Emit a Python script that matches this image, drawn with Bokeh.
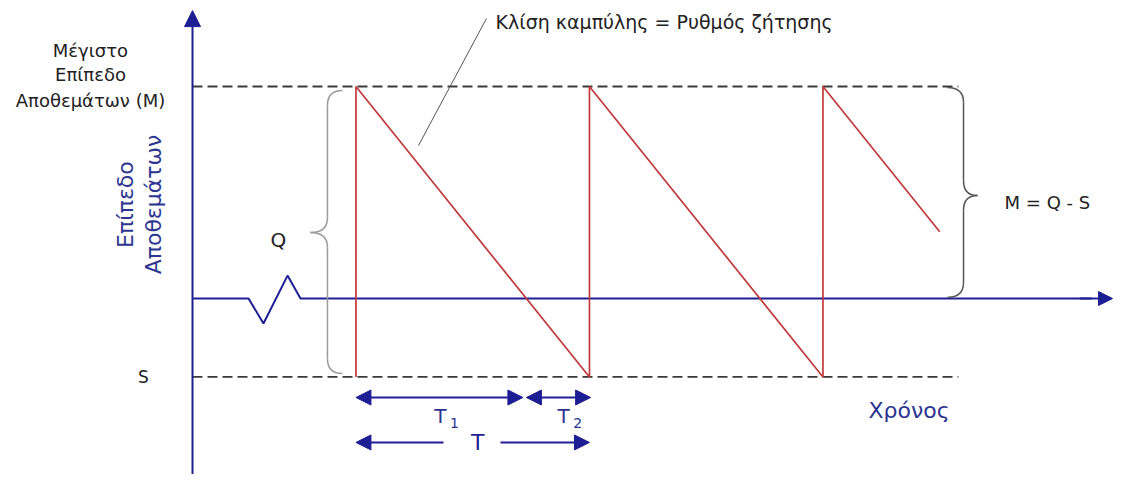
from bokeh.plotting import figure
from bokeh.models import Arrow, NormalHead, Range1d
from bokeh.core.properties import value
from bokeh.embed import file_html
from bokeh.resources import INLINE

# ---- data (time in cycle units, inventory level with M = 1) ----
M_LEVEL = 1.0
S_LEVEL = -0.37
saw_t = [0.70, 0.70, 1.70, 1.70, 2.70, 2.70, 3.20]
saw_level = [-0.37, 1.0, -0.37, 1.0, -0.37, 1.0, 0.315]
guide_end = 3.28
axis_t = [0.0, 0.163, 0.240, 0.304, 0.407, 0.4625, 3.85]
axis_level = [0.0, 0.0, 0.0, -0.118, 0.108, 0.0, 0.0]
t1_start, t1_end = 0.70, 1.415
t2_start, t2_end = 1.43, 1.705
T_gap_left, T_gap_right = 1.075, 1.319

NAVY = "#1e1e94"
BLUE_TXT = "#2b3590"
RED = "#c0393b"
FONT = value("DejaVu Sans")

p = figure(width=1114, height=474, x_range=Range1d(-0.8223, 3.9486), y_range=Range1d(-0.8302, 1.4057),
           output_backend="svg", toolbar_location=None, min_border=0,
           x_axis_location=None, y_axis_location=None)
p.xgrid.visible = False
p.ygrid.visible = False
p.outline_line_color = None

# guide dashed lines
p.line([0, guide_end], [M_LEVEL, M_LEVEL], line_color="#3a3a3a", line_width=1.8, line_dash="10 5")
p.line([0, guide_end], [S_LEVEL, S_LEVEL], line_color="#3a3a3a", line_width=1.8, line_dash="10 5")

# axes
p.add_layout(Arrow(x_start=0, y_start=-0.95, x_end=0, y_end=1.358, line_color=NAVY, line_width=2,
                   end=NormalHead(size=16, fill_color=NAVY, line_color=NAVY)))
p.line(axis_t, axis_level, line_color=NAVY, line_width=2)
p.add_layout(Arrow(x_start=3.80, y_start=0, x_end=3.94, y_end=0, line_color=NAVY, line_width=2,
                   end=NormalHead(size=14, fill_color=NAVY, line_color=NAVY)))

# sawtooth
p.line(saw_t, saw_level, line_color=RED, line_width=1.7)

# braces
def brace(spine, end_x, top, bot, tip_x, mid, ry, color):
    p.quadratic(x0=[end_x], y0=[top], x1=[spine], y1=[top - ry], cx=[spine], cy=[top], line_color=color, line_width=1.5)
    p.line([spine, spine], [top - ry, mid + ry], line_color=color, line_width=1.5)
    p.quadratic(x0=[spine], y0=[mid + ry], x1=[tip_x], y1=[mid], cx=[spine], cy=[mid], line_color=color, line_width=1.5)
    p.quadratic(x0=[tip_x], y0=[mid], x1=[spine], y1=[mid - ry], cx=[spine], cy=[mid], line_color=color, line_width=1.5)
    p.line([spine, spine], [mid - ry, bot + ry], line_color=color, line_width=1.5)
    p.quadratic(x0=[spine], y0=[bot + ry], x1=[end_x], y1=[bot], cx=[spine], cy=[bot], line_color=color, line_width=1.5)

brace(0.578, 0.642, 0.981, -0.354, 0.505, 0.311, 0.07, "#9a9a9a")
brace(3.302, 3.233, 0.995, 0.005, 3.362, 0.486, 0.07, "#555555")

# leader line
p.line([0.968, 1.259], [0.722, 1.321], line_color="#555555", line_width=1)

# time arrows
def harrow(x0, x1, y, start_head, end_head):
    p.add_layout(Arrow(x_start=x0, y_start=y, x_end=x1, y_end=y, line_color=NAVY, line_width=2,
                       start=NormalHead(size=15, fill_color=NAVY, line_color=NAVY) if start_head else None,
                       end=NormalHead(size=15, fill_color=NAVY, line_color=NAVY) if end_head else None))

harrow(t1_start, t1_end, -0.467, True, True)
harrow(t2_start, t2_end, -0.467, True, True)
harrow(T_gap_left, t1_start, -0.679, False, True)
harrow(T_gap_right, t2_end - 0.005, -0.679, False, True)

# texts
def txt(x, y, s, size, color="#222222", align="left", angle=0.0, weight="normal"):
    p.text(x=[x], y=[y], text=[s], text_font=FONT, text_font_size=f"{size}px", text_color=color,
           text_align=align, text_baseline="middle", angle=angle, text_font_style=weight)

txt(1.298, 1.302, "Κλίση καμπύλης = Ρυθμός ζήτησης", 19)
txt(-0.437, 1.170, "Μέγιστο", 18, align="center")
txt(-0.437, 1.057, "Επίπεδο", 18, align="center")
txt(-0.437, 0.934, "Αποθεμάτων (M)", 18, align="center")
txt(-0.287, 0.443, "Επίπεδο", 22, color=BLUE_TXT, align="center", angle=1.5708)
txt(-0.167, 0.443, "Αποθεμάτων", 22, color=BLUE_TXT, align="center", angle=1.5708)
txt(0.368, 0.274, "Q", 20, align="center")
txt(-0.210, S_LEVEL, "S", 17, align="center")
txt(3.478, 0.453, "M = Q - S", 18)
txt(2.895, -0.528, "Χρόνος", 22, color=BLUE_TXT)
txt(1.062, -0.552, "T", 20, color=BLUE_TXT, align="center")
txt(1.122, -0.585, "1", 14, color=BLUE_TXT, align="center")
txt(1.589, -0.552, "T", 20, color=BLUE_TXT, align="center")
txt(1.650, -0.585, "2", 14, color=BLUE_TXT, align="center")
txt(1.221, -0.679, "T", 22, color=NAVY, align="center")

open("out.html", "w").write(file_html(p, INLINE))
